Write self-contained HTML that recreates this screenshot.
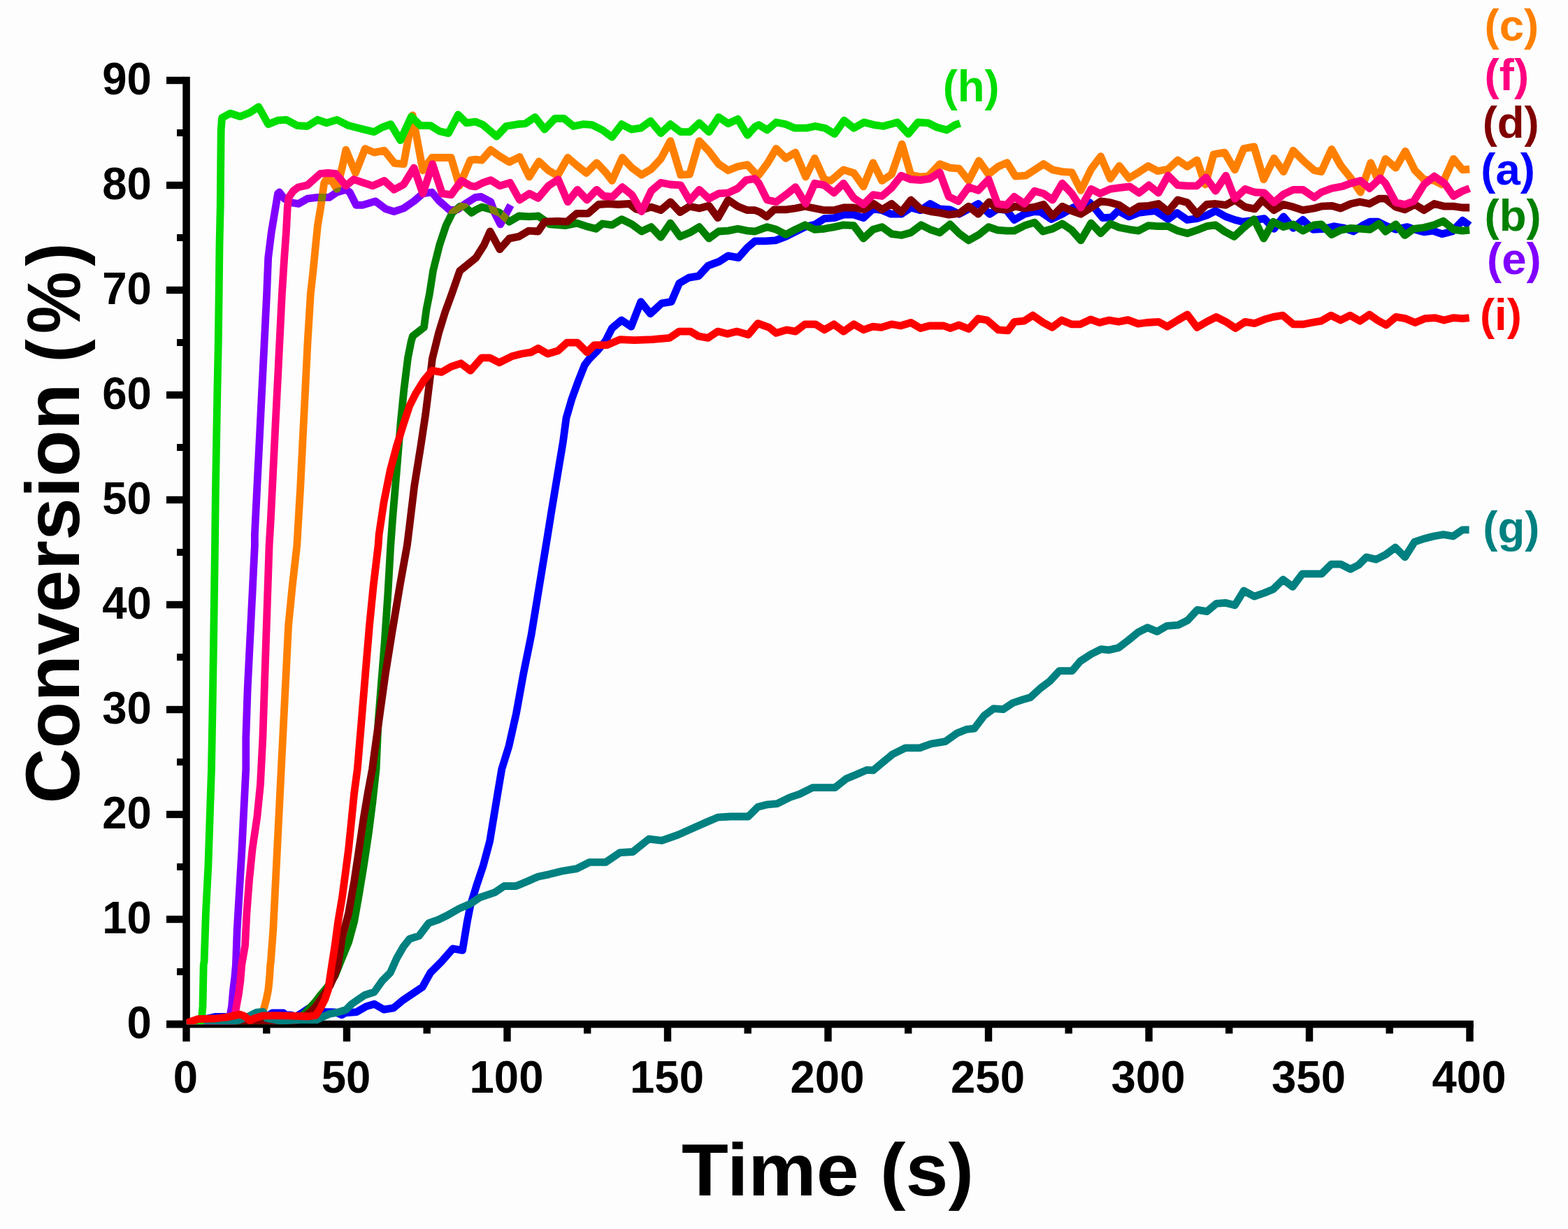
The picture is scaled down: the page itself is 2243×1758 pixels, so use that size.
<!DOCTYPE html>
<html lang="en">
<head>
<meta charset="utf-8">
<title>Conversion (%) vs Time (s)</title>
<style>
html,body{margin:0;padding:0;background:#fdfdfd;}
body{width:2243px;height:1758px;}
svg{display:block;}
text{font-family:"Liberation Sans",Arial,Helvetica,sans-serif;font-weight:700;}
.tick{font-size:63.5px;fill:#000;}
.lab{font-size:63.5px;}
.curve{fill:none;stroke-width:10.8;stroke-linejoin:round;stroke-linecap:butt;}
</style>
</head>
<body>
<svg width="2243" height="1758" viewBox="0 0 2243 1758">
<rect x="0" y="0" width="2243" height="1758" fill="#fdfdfd"/>
<defs>
<clipPath id="plot"><rect x="266.5" y="0" width="1841.5" height="1465.3"/></clipPath>
<mask id="emask" maskUnits="userSpaceOnUse" x="0" y="0" width="2243" height="1300"><polyline points="342.6,1272.1 346.0,1214.7 348.3,1168.8 351.8,1100.0 351.8,1055.4 354.1,986.5 357.5,917.7 361.0,848.8 364.4,780.0 364.4,764.2 367.8,695.4 371.3,626.5 374.7,557.7 378.2,488.8 381.6,420.0 383.7,368.6 388.3,331.9 392.9,304.4 397.5,276.9 399.7,275.0 406.7,284.2 415.8,289.7 426.9,291.5 439.7,284.2 454.4,282.4 470.9,282.4 481.9,275.0 494.8,271.3 500.3,275.0 509.5,293.4 518.6,293.4 537.0,287.9 551.7,298.9 563.6,302.6 577.4,298.0 592.1,287.9 604.9,276.9 617.8,275.0 628.8,287.9 643.5,300.7 654.5,299.8 665.5,291.5 680.0,282.4 688.3,281.4 702.0,288.8 707.5,304.4 715.8,320.9 730.5,293.4" fill="none" stroke="#fff" stroke-width="10.8" stroke-linejoin="round"/></mask>
</defs>
<g id="axes" fill="#000">
<rect x="261.3" y="109.8" width="10.5" height="1360.5"/>
<rect x="238" y="1459.8" width="1869.8" height="10.5"/>
<rect x="238" y="1459.8" width="26" height="10.4"/>
<rect x="253" y="1385.0" width="10" height="10"/>
<rect x="238" y="1309.8" width="26" height="10.4"/>
<rect x="253" y="1235.0" width="10" height="10"/>
<rect x="238" y="1159.8" width="26" height="10.4"/>
<rect x="253" y="1085.0" width="10" height="10"/>
<rect x="238" y="1009.8" width="26" height="10.4"/>
<rect x="253" y="935.0" width="10" height="10"/>
<rect x="238" y="859.8" width="26" height="10.4"/>
<rect x="253" y="785.0" width="10" height="10"/>
<rect x="238" y="709.8" width="26" height="10.4"/>
<rect x="253" y="635.0" width="10" height="10"/>
<rect x="238" y="559.8" width="26" height="10.4"/>
<rect x="253" y="485.0" width="10" height="10"/>
<rect x="238" y="409.8" width="26" height="10.4"/>
<rect x="253" y="335.0" width="10" height="10"/>
<rect x="238" y="259.8" width="26" height="10.4"/>
<rect x="253" y="185.0" width="10" height="10"/>
<rect x="238" y="109.8" width="26" height="10.4"/>
<rect x="261.3" y="1465" width="10.4" height="24.8"/>
<rect x="376.1" y="1465" width="10.4" height="13.5"/>
<rect x="490.8" y="1465" width="10.4" height="24.8"/>
<rect x="605.5" y="1465" width="10.4" height="13.5"/>
<rect x="720.3" y="1465" width="10.4" height="24.8"/>
<rect x="835.0" y="1465" width="10.4" height="13.5"/>
<rect x="949.8" y="1465" width="10.4" height="24.8"/>
<rect x="1064.5" y="1465" width="10.4" height="13.5"/>
<rect x="1179.3" y="1465" width="10.4" height="24.8"/>
<rect x="1294.0" y="1465" width="10.4" height="13.5"/>
<rect x="1408.8" y="1465" width="10.4" height="24.8"/>
<rect x="1523.5" y="1465" width="10.4" height="13.5"/>
<rect x="1638.3" y="1465" width="10.4" height="24.8"/>
<rect x="1753.0" y="1465" width="10.4" height="13.5"/>
<rect x="1867.8" y="1465" width="10.4" height="24.8"/>
<rect x="1982.5" y="1465" width="10.4" height="13.5"/>
<rect x="2097.3" y="1465" width="10.4" height="24.8"/>
</g>
<g id="curves" clip-path="url(#plot)">
<polyline class="curve" stroke="#0000FF" points="266.7,1463.6 285.8,1459.4 308.5,1454.3 320.5,1454.3 333.6,1457.0 369.4,1457.0 381.4,1454.3 389.7,1448.9 405.3,1448.9 408.8,1451.9 416.0,1451.9 423.2,1454.3 430.3,1449.9 441.1,1442.7 453.0,1446.9 465.0,1447.5 479.3,1447.8 488.9,1451.7 494.1,1448.8 510.1,1447.6 523.9,1439.6 535.4,1436.2 549.1,1444.2 562.9,1441.9 576.7,1430.4 590.4,1421.2 604.2,1412.1 615.7,1391.4 631.7,1375.4 647.8,1357.0 661.6,1359.3 668.4,1318.0 673.0,1295.0 682.2,1265.2 691.4,1237.7 700.6,1203.3 706.3,1168.8 712.0,1134.4 717.8,1100.0 728.1,1066.8 738.4,1020.9 748.8,963.6 760.0,908.5 782.4,771.9 788.2,735.7 793.9,701.2 799.6,666.8 805.4,632.4 810.0,598.0 818.0,570.5 827.2,545.2 836.3,522.3 843.2,513.1 854.7,501.6 866.2,487.8 875.4,469.5 889.1,458.0 902.9,467.2 916.7,431.6 930.4,448.8 946.5,433.9 960.3,431.6 971.7,405.2 985.5,397.2 999.3,394.9 1013.0,380.0 1028.8,374.1 1041.6,365.9 1056.3,368.6 1069.2,354.0 1080.0,344.8 1094.7,344.8 1109.4,343.9 1124.1,338.4 1136.9,331.9 1151.6,324.6 1166.3,320.9 1179.1,312.7 1193.8,311.7 1206.7,307.1 1221.3,307.1 1235.1,311.7 1248.9,298.9 1261.7,300.7 1274.6,306.2 1289.3,306.2 1303.0,297.0 1316.8,300.7 1330.6,291.5 1344.3,298.9 1359.0,299.8 1371.9,306.2 1385.6,298.9 1399.4,291.5 1415.9,306.2 1426.9,298.9 1439.8,300.7 1450.8,314.5 1465.5,306.2 1480.0,302.6 1489.2,303.5 1503.9,313.6 1519.5,306.2 1535.1,297.0 1558.9,289.7 1569.9,302.6 1577.3,311.7 1590.1,310.8 1599.3,301.6 1614.9,309.9 1628.7,304.4 1642.5,302.6 1652.6,301.6 1670.9,313.6 1683.8,304.4 1698.4,314.5 1712.2,312.7 1726.0,308.1 1738.8,301.6 1753.5,309.9 1766.4,314.5 1777.4,317.2 1792.1,315.4 1808.6,312.7 1822.4,327.3 1836.1,309.9 1849.9,326.4 1863.7,314.5 1878.3,328.3 1893.8,327.3 1908.5,323.7 1923.2,326.4 1936.0,331.0 1948.9,322.7 1959.9,317.2 1970.9,317.2 1981.9,322.7 1996.6,328.3 2013.1,324.6 2024.1,328.3 2037.0,331.9 2049.8,330.1 2062.7,334.7 2077.4,331.0 2092.1,315.4 2102.2,322.7"/>
<polyline class="curve" stroke="#008000" points="266.7,1464.2 321.7,1463.6 369.4,1462.4 417.2,1460.0 433.9,1451.7 450.6,1433.7 457.8,1424.2 468.0,1412.2 479.3,1395.5 487.2,1375.4 498.6,1347.8 506.7,1318.0 513.6,1279.0 520.4,1237.7 527.3,1191.8 533.1,1145.9 538.1,1100.0 541.1,1032.4 545.7,975.0 550.3,917.7 554.9,848.8 558.8,780.0 561.7,741.2 567.5,672.4 573.2,603.6 577.8,557.7 583.5,511.8 588.1,488.8 590.4,480.8 606.5,468.2 609.9,442.9 614.5,420.0 619.6,387.0 628.8,350.3 638.0,322.7 647.1,304.4 658.2,295.2 665.5,296.1 674.7,304.4 680.0,300.7 689.2,296.1 700.2,298.9 714.9,304.4 728.6,317.2 742.4,309.0 757.1,309.9 769.9,309.0 779.1,315.4 786.5,320.9 808.5,322.7 825.0,319.1 838.8,323.7 852.6,327.3 861.7,320.0 875.5,321.8 889.3,313.6 904.0,320.9 917.7,331.0 931.5,324.6 945.3,339.3 959.0,319.1 972.8,338.4 986.6,332.8 1000.3,324.6 1014.1,341.1 1027.9,331.0 1041.6,330.1 1055.4,327.3 1069.2,330.1 1080.0,331.0 1097.4,324.6 1110.3,328.3 1124.1,335.6 1137.8,328.3 1151.6,321.8 1165.4,328.3 1179.1,327.3 1193.8,324.6 1206.7,321.8 1221.3,322.7 1235.1,341.1 1248.9,328.3 1261.7,324.6 1275.5,334.7 1289.3,336.5 1303.0,332.8 1317.7,321.8 1330.6,328.3 1344.3,332.8 1359.0,320.9 1371.9,333.8 1385.6,343.9 1400.3,335.6 1414.1,324.6 1426.9,329.2 1439.8,330.1 1450.8,330.1 1465.5,322.7 1480.0,318.2 1491.9,331.0 1505.7,327.3 1519.5,320.0 1533.2,329.2 1546.1,343.9 1560.8,319.1 1574.5,333.8 1588.3,320.0 1601.2,325.5 1615.8,328.3 1628.7,330.1 1642.5,322.7 1656.2,323.7 1670.9,323.7 1684.7,330.1 1698.4,333.8 1712.2,329.2 1726.0,323.7 1738.8,321.8 1751.7,331.0 1765.5,338.4 1779.2,325.5 1793.9,313.6 1807.7,341.1 1821.4,317.2 1836.1,324.6 1849.9,320.9 1863.7,330.1 1880.0,321.8 1890.1,320.9 1904.8,335.6 1917.7,329.2 1932.4,326.4 1947.0,327.3 1959.9,328.3 1972.7,320.0 1981.9,331.0 1996.6,320.9 2009.5,336.5 2022.3,327.3 2037.0,325.5 2051.7,321.8 2064.5,316.3 2079.2,328.3 2092.1,330.1 2102.2,329.2"/>
<polyline class="curve" stroke="#FF8000" points="266.7,1464.2 321.7,1463.0 369.4,1456.4 374.2,1451.7 378.4,1439.7 381.4,1427.8 383.8,1415.8 385.6,1397.9 386.7,1380.0 387.4,1375.4 390.8,1329.5 393.1,1283.6 395.4,1237.7 397.7,1191.8 400.0,1145.9 402.3,1100.0 405.7,1032.4 409.2,963.6 412.6,894.7 418.3,837.4 424.8,780.0 426.4,752.7 429.8,695.4 433.2,626.5 436.7,557.7 440.1,488.8 444.3,420.0 448.0,387.0 451.6,350.3 454.4,322.7 459.0,295.2 463.6,262.2 465.4,258.5 474.6,258.5 481.9,270.4 489.3,240.1 494.8,214.4 508.5,247.5 522.3,212.6 535.2,218.1 549.8,215.4 564.5,233.7 577.4,234.6 590.2,164.9 604.9,243.8 617.8,225.5 632.5,225.5 645.3,225.5 657.2,265.8 672.8,229.1 680.0,228.2 689.2,229.1 702.0,214.4 714.9,223.6 728.6,231.9 743.3,224.5 757.1,253.0 770.9,231.0 784.6,243.8 797.5,251.2 812.2,225.5 825.0,236.5 838.8,247.5 853.5,232.8 867.2,247.5 875.5,258.5 890.2,225.5 904.0,240.1 917.7,250.2 931.5,242.0 945.3,227.3 959.0,201.6 973.7,250.2 986.6,249.3 1000.3,201.6 1014.1,216.3 1027.9,234.6 1041.6,243.8 1055.4,238.3 1069.2,235.6 1080.0,247.5 1085.5,250.2 1098.4,232.8 1110.3,212.6 1124.1,226.4 1137.8,218.1 1152.5,253.0 1165.4,226.4 1179.1,256.7 1188.3,258.5 1206.7,242.9 1221.3,247.5 1235.1,266.8 1248.9,232.8 1261.7,258.5 1275.5,249.3 1290.2,206.2 1303.0,250.2 1316.8,253.0 1327.8,252.1 1344.3,234.6 1359.0,240.1 1371.9,241.1 1385.6,258.5 1400.3,230.0 1414.1,249.3 1427.9,238.3 1440.7,232.8 1452.6,252.1 1467.3,251.2 1480.0,242.9 1492.8,234.6 1505.7,242.9 1519.5,245.6 1533.2,246.6 1546.1,272.3 1560.8,242.0 1574.5,223.6 1588.3,255.7 1601.2,237.4 1614.9,254.8 1628.7,246.6 1642.5,237.4 1656.2,244.7 1670.9,242.0 1684.7,229.1 1698.4,238.3 1712.2,229.1 1724.1,264.0 1736.1,220.9 1751.7,218.1 1766.4,242.9 1779.2,212.6 1793.9,209.9 1807.7,256.7 1822.4,226.4 1836.1,245.6 1849.9,215.4 1865.5,231.0 1880.0,243.8 1890.1,245.6 1904.8,213.5 1917.7,236.5 1932.4,254.8 1946.1,275.0 1960.8,232.8 1970.9,256.7 1981.9,227.3 1996.6,240.1 2010.4,216.3 2024.1,243.8 2037.0,256.7 2051.7,258.5 2062.7,264.0 2079.2,227.3 2092.1,242.9 2102.2,242.0"/>
<polyline class="curve" stroke="#800000" points="266.7,1464.2 321.7,1463.6 369.4,1463.6 405.3,1463.0 429.1,1458.8 442.9,1448.7 452.4,1439.1 459.6,1428.4 465.6,1419.4 472.1,1409.9 477.5,1397.9 482.9,1383.6 489.5,1340.9 498.6,1306.5 506.7,1260.6 513.6,1214.7 520.4,1168.8 526.2,1134.4 532.6,1100.0 535.4,1078.3 543.4,1020.9 551.4,963.6 560.6,906.2 572.1,837.4 582.4,780.0 585.8,752.7 592.7,695.4 601.9,638.0 608.8,592.1 614.5,546.2 618.4,513.1 627.5,476.4 636.7,446.5 645.9,421.3 657.7,387.5 680.9,368.7 692.4,350.5 701.1,331.0 714.9,356.7 728.6,341.1 742.4,338.4 756.2,330.1 769.9,331.0 779.1,317.2 797.5,316.3 811.3,317.2 825.0,305.3 841.5,305.3 856.2,292.5 870.9,291.5 883.8,292.5 900.3,291.5 909.5,298.9 916.8,300.7 931.5,296.1 945.3,300.7 959.0,288.8 972.8,303.5 986.6,295.2 1000.3,298.0 1014.1,294.3 1026.9,311.7 1041.6,286.0 1055.4,295.2 1069.2,300.7 1080.0,300.7 1087.3,303.5 1096.5,309.9 1107.5,299.8 1124.1,299.8 1137.8,298.0 1151.6,295.2 1165.4,298.0 1179.1,300.7 1192.9,300.7 1206.7,297.0 1221.3,297.0 1236.0,299.8 1249.8,291.5 1261.7,299.8 1275.5,291.5 1289.3,303.5 1303.0,286.0 1316.8,298.9 1331.5,302.6 1344.3,304.4 1357.2,307.1 1371.9,305.3 1385.6,295.2 1399.4,306.2 1415.0,288.8 1426.9,298.9 1439.8,299.8 1452.6,295.2 1465.5,298.0 1480.0,296.1 1492.8,292.5 1505.7,309.0 1519.5,295.2 1533.2,301.6 1546.1,306.2 1560.8,297.0 1574.5,287.9 1588.3,289.7 1601.2,293.4 1615.8,303.5 1629.6,295.2 1643.4,294.3 1657.1,291.5 1670.9,302.6 1684.7,286.0 1698.4,289.7 1712.2,306.2 1726.0,292.5 1738.8,291.5 1753.5,293.4 1766.4,286.0 1781.1,296.1 1794.8,298.9 1805.8,286.0 1822.4,300.7 1836.1,292.5 1849.9,296.1 1863.7,300.7 1880.0,298.0 1890.1,295.2 1904.8,294.3 1917.7,298.0 1932.4,291.5 1945.2,288.8 1959.0,291.5 1972.7,284.2 1981.9,284.2 1996.6,296.1 2009.5,299.8 2024.1,292.5 2037.0,300.7 2051.7,291.5 2066.4,295.2 2079.2,295.2 2092.1,297.0 2102.2,297.0"/>
<polyline class="curve" stroke="#8000FF" points="266.7,1464.2 309.7,1463.6 326.4,1461.2 328.8,1454.0 331.5,1439.7 333.6,1415.8 335.8,1397.9 337.4,1380.0 339.2,1329.5 342.6,1272.1 346.0,1214.7 348.3,1168.8 351.8,1100.0 351.8,1055.4 354.1,986.5 357.5,917.7 361.0,848.8 364.4,780.0 364.4,764.2 367.8,695.4 371.3,626.5 374.7,557.7 378.2,488.8 381.6,420.0 383.7,368.6 388.3,331.9 392.9,304.4 397.5,276.9 399.7,275.0 406.7,284.2 415.8,289.7 426.9,291.5 439.7,284.2 454.4,282.4 470.9,282.4 481.9,275.0 494.8,271.3 500.3,275.0 509.5,293.4 518.6,293.4 537.0,287.9 551.7,298.9 563.6,302.6 577.4,298.0 592.1,287.9 604.9,276.9 617.8,275.0 628.8,287.9 643.5,300.7 654.5,299.8 665.5,291.5 680.0,282.4 688.3,281.4 702.0,288.8 707.5,304.4 715.8,320.9 730.5,293.4"/>
<g mask="url(#emask)"><polyline class="curve" stroke="#808000" points="266.7,1464.2 321.7,1463.6 369.4,1462.4 417.2,1460.0 433.9,1451.7 450.6,1433.7 457.8,1424.2 468.0,1412.2 479.3,1395.5 487.2,1375.4 498.6,1347.8 506.7,1318.0 513.6,1279.0 520.4,1237.7 527.3,1191.8 533.1,1145.9 538.1,1100.0 541.1,1032.4 545.7,975.0 550.3,917.7 554.9,848.8 558.8,780.0 561.7,741.2 567.5,672.4 573.2,603.6 577.8,557.7 583.5,511.8 588.1,488.8 590.4,480.8 606.5,468.2 609.9,442.9 614.5,420.0 619.6,387.0 628.8,350.3 638.0,322.7 647.1,304.4 658.2,295.2 665.5,296.1 674.7,304.4 680.0,300.7 689.2,296.1 700.2,298.9 714.9,304.4 728.6,317.2 742.4,309.0 757.1,309.9 769.9,309.0 779.1,315.4 786.5,320.9 808.5,322.7 825.0,319.1 838.8,323.7 852.6,327.3 861.7,320.0 875.5,321.8 889.3,313.6 904.0,320.9 917.7,331.0 931.5,324.6 945.3,339.3 959.0,319.1 972.8,338.4 986.6,332.8 1000.3,324.6 1014.1,341.1 1027.9,331.0 1041.6,330.1 1055.4,327.3 1069.2,330.1 1080.0,331.0 1097.4,324.6 1110.3,328.3 1124.1,335.6 1137.8,328.3 1151.6,321.8 1165.4,328.3 1179.1,327.3 1193.8,324.6 1206.7,321.8 1221.3,322.7 1235.1,341.1 1248.9,328.3 1261.7,324.6 1275.5,334.7 1289.3,336.5 1303.0,332.8 1317.7,321.8 1330.6,328.3 1344.3,332.8 1359.0,320.9 1371.9,333.8 1385.6,343.9 1400.3,335.6 1414.1,324.6 1426.9,329.2 1439.8,330.1 1450.8,330.1 1465.5,322.7 1480.0,318.2 1491.9,331.0 1505.7,327.3 1519.5,320.0 1533.2,329.2 1546.1,343.9 1560.8,319.1 1574.5,333.8 1588.3,320.0 1601.2,325.5 1615.8,328.3 1628.7,330.1 1642.5,322.7 1656.2,323.7 1670.9,323.7 1684.7,330.1 1698.4,333.8 1712.2,329.2 1726.0,323.7 1738.8,321.8 1751.7,331.0 1765.5,338.4 1779.2,325.5 1793.9,313.6 1807.7,341.1 1821.4,317.2 1836.1,324.6 1849.9,320.9 1863.7,330.1 1880.0,321.8 1890.1,320.9 1904.8,335.6 1917.7,329.2 1932.4,326.4 1947.0,327.3 1959.9,328.3 1972.7,320.0 1981.9,331.0 1996.6,320.9 2009.5,336.5 2022.3,327.3 2037.0,325.5 2051.7,321.8 2064.5,316.3 2079.2,328.3 2092.1,330.1 2102.2,329.2"/><polyline class="curve" stroke="#808000" points="266.7,1464.2 321.7,1463.0 369.4,1456.4 374.2,1451.7 378.4,1439.7 381.4,1427.8 383.8,1415.8 385.6,1397.9 386.7,1380.0 387.4,1375.4 390.8,1329.5 393.1,1283.6 395.4,1237.7 397.7,1191.8 400.0,1145.9 402.3,1100.0 405.7,1032.4 409.2,963.6 412.6,894.7 418.3,837.4 424.8,780.0 426.4,752.7 429.8,695.4 433.2,626.5 436.7,557.7 440.1,488.8 444.3,420.0 448.0,387.0 451.6,350.3 454.4,322.7 459.0,295.2 463.6,262.2 465.4,258.5 474.6,258.5 481.9,270.4 489.3,240.1 494.8,214.4 508.5,247.5 522.3,212.6 535.2,218.1 549.8,215.4 564.5,233.7 577.4,234.6 590.2,164.9 604.9,243.8 617.8,225.5 632.5,225.5 645.3,225.5 657.2,265.8 672.8,229.1 680.0,228.2 689.2,229.1 702.0,214.4 714.9,223.6 728.6,231.9 743.3,224.5 757.1,253.0 770.9,231.0 784.6,243.8 797.5,251.2 812.2,225.5 825.0,236.5 838.8,247.5 853.5,232.8 867.2,247.5 875.5,258.5 890.2,225.5 904.0,240.1 917.7,250.2 931.5,242.0 945.3,227.3 959.0,201.6 973.7,250.2 986.6,249.3 1000.3,201.6 1014.1,216.3 1027.9,234.6 1041.6,243.8 1055.4,238.3 1069.2,235.6 1080.0,247.5 1085.5,250.2 1098.4,232.8 1110.3,212.6 1124.1,226.4 1137.8,218.1 1152.5,253.0 1165.4,226.4 1179.1,256.7 1188.3,258.5 1206.7,242.9 1221.3,247.5 1235.1,266.8 1248.9,232.8 1261.7,258.5 1275.5,249.3 1290.2,206.2 1303.0,250.2 1316.8,253.0 1327.8,252.1 1344.3,234.6 1359.0,240.1 1371.9,241.1 1385.6,258.5 1400.3,230.0 1414.1,249.3 1427.9,238.3 1440.7,232.8 1452.6,252.1 1467.3,251.2 1480.0,242.9 1492.8,234.6 1505.7,242.9 1519.5,245.6 1533.2,246.6 1546.1,272.3 1560.8,242.0 1574.5,223.6 1588.3,255.7 1601.2,237.4 1614.9,254.8 1628.7,246.6 1642.5,237.4 1656.2,244.7 1670.9,242.0 1684.7,229.1 1698.4,238.3 1712.2,229.1 1724.1,264.0 1736.1,220.9 1751.7,218.1 1766.4,242.9 1779.2,212.6 1793.9,209.9 1807.7,256.7 1822.4,226.4 1836.1,245.6 1849.9,215.4 1865.5,231.0 1880.0,243.8 1890.1,245.6 1904.8,213.5 1917.7,236.5 1932.4,254.8 1946.1,275.0 1960.8,232.8 1970.9,256.7 1981.9,227.3 1996.6,240.1 2010.4,216.3 2024.1,243.8 2037.0,256.7 2051.7,258.5 2062.7,264.0 2079.2,227.3 2092.1,242.9 2102.2,242.0"/></g>
<polyline class="curve" stroke="#FF0080" points="266.7,1464.2 309.7,1463.6 332.4,1461.2 336.0,1451.7 338.1,1439.7 341.4,1421.8 343.8,1403.9 345.8,1380.0 350.6,1352.4 352.9,1306.5 356.4,1260.6 361.0,1214.7 367.8,1168.8 372.4,1122.9 373.6,1100.0 375.9,1055.4 378.2,986.5 380.5,917.7 382.8,848.8 385.1,780.0 387.4,741.2 390.8,672.4 394.2,603.6 397.7,534.7 401.1,465.9 403.4,420.0 406.7,368.6 409.4,331.9 411.3,295.2 413.1,282.4 419.5,273.2 426.9,267.7 439.7,264.9 448.9,256.7 458.1,248.4 469.1,247.5 480.1,248.4 487.4,256.7 494.8,265.8 505.8,256.7 516.8,260.3 533.3,265.8 549.8,258.5 563.6,271.3 577.4,264.0 592.1,240.1 604.9,276.9 618.7,234.6 632.5,276.9 645.3,278.7 660.0,258.5 672.8,265.8 680.0,266.8 691.0,261.3 702.0,257.6 714.9,265.8 729.6,261.3 743.3,286.0 757.1,276.9 769.9,283.3 784.6,265.8 798.4,256.7 812.2,288.8 825.9,271.3 839.7,286.0 853.5,271.3 863.6,280.5 876.4,281.4 890.2,267.7 904.0,278.7 917.7,302.6 931.5,273.2 945.3,261.3 959.0,264.0 973.7,264.9 986.6,287.0 1000.3,271.3 1014.1,284.2 1027.9,276.9 1041.6,275.9 1055.4,269.5 1067.3,257.6 1080.0,255.7 1085.5,262.2 1097.4,286.0 1110.3,288.8 1124.1,278.7 1137.8,267.7 1152.5,291.5 1165.4,262.2 1179.1,264.9 1192.9,275.9 1206.7,262.2 1221.3,283.3 1235.1,292.5 1248.9,278.7 1261.7,280.5 1275.5,268.6 1289.3,251.2 1303.0,256.7 1316.8,257.6 1329.7,255.7 1344.3,246.6 1357.2,281.4 1371.0,287.9 1385.6,267.7 1399.4,272.3 1414.1,256.7 1426.9,291.5 1439.8,293.4 1450.8,281.4 1465.5,291.5 1480.0,273.2 1492.8,276.9 1505.7,286.0 1519.5,262.2 1533.2,276.9 1546.1,297.0 1560.8,270.4 1573.6,276.9 1588.3,270.4 1601.2,268.6 1615.8,266.8 1629.6,275.9 1643.4,264.9 1657.1,275.9 1670.9,251.2 1684.7,264.9 1698.4,265.8 1712.2,265.8 1725.1,253.9 1738.8,273.2 1753.5,251.2 1766.4,284.2 1781.1,270.4 1794.8,275.0 1808.6,275.9 1822.4,289.7 1836.1,277.8 1849.9,271.3 1863.7,271.3 1880.0,282.4 1890.1,275.0 1904.8,269.5 1919.5,266.8 1932.4,262.2 1946.1,258.5 1959.0,269.5 1974.6,254.8 1981.9,262.2 1996.6,289.7 2009.5,292.5 2022.3,287.9 2037.0,264.0 2051.7,252.1 2066.4,262.2 2079.2,280.5 2092.1,273.2 2102.2,269.5"/>
<polyline class="curve" stroke="#008080" points="266.7,1463.8 297.8,1463.6 333.6,1461.2 343.2,1458.8 355.1,1454.0 367.0,1448.1 376.6,1447.5 381.4,1456.4 399.3,1460.0 429.1,1458.8 453.0,1458.8 460.2,1455.2 470.9,1450.5 482.9,1448.1 494.8,1444.5 503.2,1436.1 510.0,1431.4 521.6,1423.5 535.4,1419.0 546.8,1402.9 558.3,1391.4 567.5,1370.8 576.7,1354.7 585.8,1343.2 599.6,1338.6 613.4,1320.3 627.1,1315.7 640.9,1308.8 657.0,1299.6 673.0,1292.7 686.8,1283.6 707.5,1276.7 721.2,1267.5 737.3,1267.5 740.0,1266.7 753.8,1260.9 769.8,1254.0 785.9,1250.6 804.2,1246.0 824.9,1242.6 843.3,1233.4 866.2,1233.4 886.9,1219.6 905.2,1218.5 928.2,1200.1 946.5,1202.4 969.5,1194.4 992.4,1184.1 1010.8,1176.0 1026.8,1169.1 1045.2,1168.0 1070.4,1168.0 1084.2,1154.2 1098.0,1150.8 1111.7,1149.6 1130.1,1140.5 1143.9,1135.9 1162.2,1126.7 1176.0,1126.7 1194.3,1126.7 1210.4,1114.1 1224.2,1108.3 1240.0,1101.4 1249.2,1101.9 1262.9,1090.4 1276.7,1079.0 1295.1,1069.8 1315.7,1069.8 1331.8,1064.0 1352.4,1060.6 1368.5,1049.1 1382.3,1043.4 1393.7,1042.2 1407.5,1023.9 1421.3,1013.6 1435.0,1014.7 1448.8,1005.5 1462.6,1000.9 1474.1,997.5 1487.8,984.9 1501.6,974.5 1515.4,959.6 1533.7,959.6 1545.2,945.9 1561.2,935.5 1575.0,928.7 1586.5,929.8 1600.3,926.4 1614.0,916.0 1627.8,904.6 1641.6,897.7 1655.3,903.4 1669.1,895.4 1685.2,894.2 1698.9,887.4 1712.7,872.4 1726.5,874.7 1740.0,863.3 1752.8,862.3 1766.5,865.7 1779.2,845.0 1794.1,853.1 1807.8,848.5 1821.6,842.7 1835.4,829.0 1849.2,839.3 1862.9,820.9 1876.7,820.9 1890.5,820.9 1904.2,807.2 1918.0,807.2 1931.8,814.1 1943.2,808.3 1954.7,796.9 1968.5,800.3 1982.2,793.4 1996.0,783.1 2009.8,796.9 2023.5,775.1 2037.3,770.5 2051.1,767.0 2064.8,764.7 2078.6,767.0 2092.4,757.8 2101.6,757.8"/>
<polyline class="curve" stroke="#00DD00" points="266.7,1464.2 285.8,1464.2 288.5,1456.4 290.0,1439.7 290.6,1409.9 291.2,1380.0 292.1,1375.4 294.4,1306.5 297.9,1237.7 300.2,1168.8 302.5,1100.0 304.1,1009.5 305.9,894.7 307.5,780.0 308.2,718.3 309.3,649.5 310.9,557.7 312.3,488.8 313.2,420.0 314.0,350.3 315.2,295.2 316.2,185.1 317.6,168.5 329.6,162.1 343.3,166.7 357.1,161.2 369.9,152.9 383.7,177.7 397.5,172.2 409.4,171.3 425.0,179.6 439.7,180.5 454.4,171.3 467.2,175.9 481.9,171.3 498.4,179.6 516.8,184.2 535.2,188.7 546.2,182.3 559.0,177.7 572.8,200.7 588.4,166.7 601.2,179.6 615.9,179.6 628.8,187.8 641.6,190.6 655.4,164.0 667.3,175.9 680.0,174.1 691.0,178.6 710.3,195.2 724.1,180.5 740.6,177.7 751.6,176.8 765.4,167.6 779.1,185.1 793.8,169.5 806.7,169.5 820.4,180.5 834.2,177.7 847.0,178.6 861.7,186.0 875.5,196.1 889.3,177.7 903.0,185.1 916.8,183.2 930.6,173.1 945.3,190.6 959.0,177.7 973.7,188.7 986.6,188.7 1000.3,175.9 1014.1,188.7 1027.9,167.6 1041.6,176.8 1055.4,170.4 1069.2,193.3 1080.0,181.4 1085.5,178.6 1097.4,186.0 1110.3,175.0 1124.1,177.7 1136.9,183.2 1153.4,183.2 1166.3,180.5 1180.0,183.2 1193.8,191.5 1207.6,172.2 1221.3,183.2 1236.0,175.0 1249.8,178.6 1263.6,180.5 1283.8,175.0 1299.4,191.5 1313.1,175.0 1327.8,175.9 1340.7,182.3 1354.4,186.0 1366.4,178.6 1373.3,176.3"/>
<polyline class="curve" stroke="#FF0000" points="266.7,1463.6 283.4,1457.6 307.3,1457.0 324.0,1455.2 333.6,1453.1 343.2,1451.1 349.1,1453.1 357.5,1459.8 364.7,1456.4 375.4,1453.1 393.3,1452.6 417.2,1453.1 441.1,1454.0 451.8,1452.3 458.4,1442.1 465.0,1429.0 469.5,1415.8 472.1,1397.9 474.8,1380.0 479.1,1352.4 483.7,1318.0 489.5,1283.6 494.1,1249.2 498.6,1214.7 502.1,1180.3 506.7,1134.4 511.3,1100.0 517.0,1032.4 522.7,963.6 528.5,894.7 534.2,837.4 541.1,780.0 542.2,764.2 549.1,718.3 558.3,672.4 567.5,638.0 576.7,608.2 585.8,580.6 595.0,562.3 606.5,543.9 618.0,530.1 631.7,532.4 645.5,524.4 659.3,519.8 673.0,530.1 689.1,511.8 700.6,511.8 714.3,518.7 732.7,509.5 746.5,506.0 760.0,503.8 769.8,498.2 783.6,506.2 798.5,501.6 811.1,490.1 826.0,490.1 839.8,503.9 850.1,493.6 868.5,493.6 886.8,485.6 907.5,486.7 932.7,485.6 958.0,483.3 971.7,474.1 987.8,474.1 999.3,481.0 1013.0,483.3 1026.8,474.1 1040.6,477.5 1054.3,474.1 1070.4,478.7 1084.2,462.6 1100.0,468.3 1110.3,476.4 1125.2,471.8 1137.9,474.1 1151.6,463.8 1166.5,463.8 1179.2,471.8 1192.9,463.8 1206.7,474.1 1221.6,463.8 1235.4,471.8 1248.0,467.2 1260.6,468.3 1275.5,463.8 1288.2,466.0 1303.1,461.5 1316.8,469.5 1329.5,466.0 1350.1,466.0 1359.3,469.5 1371.9,464.9 1385.7,470.6 1399.4,455.7 1412.1,458.0 1428.1,471.8 1441.9,472.9 1451.1,460.3 1464.8,459.2 1477.5,451.1 1492.4,461.5 1505.0,468.3 1518.8,458.0 1532.5,463.8 1545.2,463.8 1560.1,456.9 1572.7,461.5 1586.5,458.0 1600.0,460.3 1613.6,457.6 1628.1,463.1 1640.0,461.5 1657.2,460.3 1669.8,467.2 1684.7,458.0 1698.5,450.0 1712.3,468.3 1726.0,460.3 1739.8,453.4 1753.6,460.3 1767.4,469.5 1781.1,460.3 1794.9,462.6 1808.7,456.9 1821.3,453.4 1835.0,451.1 1850.0,463.8 1864.9,463.8 1876.3,461.5 1890.1,459.2 1903.9,451.1 1917.7,458.0 1931.4,451.1 1945.2,459.2 1959.0,450.0 1970.4,458.0 1983.0,464.9 1996.8,453.4 2010.6,455.7 2024.4,461.5 2038.1,455.7 2053.0,454.6 2065.7,458.0 2079.4,454.6 2092.0,455.7 2101.7,454.6"/>
</g>
<g id="ticklabels">
<text class="tick" transform="translate(216.8 1484.6) scale(1 1.025)" text-anchor="end">0</text>
<text class="tick" transform="translate(216.8 1334.6) scale(1 1.025)" text-anchor="end">10</text>
<text class="tick" transform="translate(216.8 1184.6) scale(1 1.025)" text-anchor="end">20</text>
<text class="tick" transform="translate(216.8 1034.6) scale(1 1.025)" text-anchor="end">30</text>
<text class="tick" transform="translate(216.8 884.6) scale(1 1.025)" text-anchor="end">40</text>
<text class="tick" transform="translate(216.8 734.6) scale(1 1.025)" text-anchor="end">50</text>
<text class="tick" transform="translate(216.8 584.6) scale(1 1.025)" text-anchor="end">60</text>
<text class="tick" transform="translate(216.8 434.6) scale(1 1.025)" text-anchor="end">70</text>
<text class="tick" transform="translate(216.8 284.6) scale(1 1.025)" text-anchor="end">80</text>
<text class="tick" transform="translate(216.8 134.6) scale(1 1.025)" text-anchor="end">90</text>
<text class="tick" transform="translate(265.5 1562.6) scale(1 1.025)" text-anchor="middle">0</text>
<text class="tick" transform="translate(495.0 1562.6) scale(1 1.025)" text-anchor="middle">50</text>
<text class="tick" transform="translate(724.5 1562.6) scale(1 1.025)" text-anchor="middle">100</text>
<text class="tick" transform="translate(954.0 1562.6) scale(1 1.025)" text-anchor="middle">150</text>
<text class="tick" transform="translate(1183.5 1562.6) scale(1 1.025)" text-anchor="middle">200</text>
<text class="tick" transform="translate(1413.0 1562.6) scale(1 1.025)" text-anchor="middle">250</text>
<text class="tick" transform="translate(1642.5 1562.6) scale(1 1.025)" text-anchor="middle">300</text>
<text class="tick" transform="translate(1872.0 1562.6) scale(1 1.025)" text-anchor="middle">350</text>
<text class="tick" transform="translate(2101.5 1562.6) scale(1 1.025)" text-anchor="middle">400</text>
</g>
<g id="titles" fill="#000">
<text x="1184" y="1710.3" text-anchor="middle" font-size="104.8" textLength="418" lengthAdjust="spacingAndGlyphs">Time (s)</text>
<text transform="translate(113.2 1149.5) rotate(-90)" font-size="109.5"><tspan textLength="601" lengthAdjust="spacingAndGlyphs">Conversion</tspan> <tspan x="631.1" y="0.4" font-size="107.7" letter-spacing="8.44" textLength="178.8" lengthAdjust="spacingAndGlyphs">(%)</tspan></text>
</g>
<g id="labels">
<text class="lab" x="2123.6" y="57.9" fill="#FF8000">(c)</text>
<text class="lab" x="2123.6" y="129.0" fill="#FF0080">(f)</text>
<text class="lab" x="2120.7" y="196.9" fill="#800000">(d)</text>
<text class="lab" x="2118.3" y="264.2" fill="#0000FF">(a)</text>
<text class="lab" x="2123.6" y="330.1" fill="#008000">(b)</text>
<text class="lab" x="2127.1" y="392.4" fill="#8000FF">(e)</text>
<text class="lab" x="2116.9" y="472.0" fill="#FF0000">(i)</text>
<text class="lab" x="2121.3" y="776.3" fill="#008080">(g)</text>
<text class="lab" x="1348.7" y="145.4" fill="#00DD00">(h)</text>
</g>
</svg>
</body>
</html>
